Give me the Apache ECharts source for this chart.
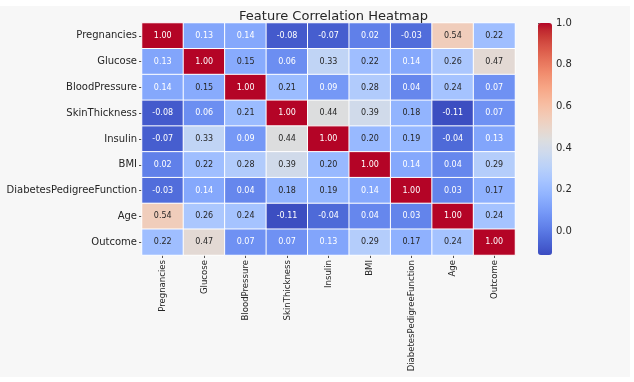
<!DOCTYPE html>
<html>
<head>
<meta charset="utf-8">
<script src="https://cdn.jsdelivr.net/npm/echarts@6/dist/echarts.min.js"></script>
<style>html,body{margin:0;padding:0;background:#fff;}#c{width:634px;height:382px;}</style>
</head>
<body>
<div id="c"></div>
<script>
const features = ['Pregnancies','Glucose','BloodPressure','SkinThickness','Insulin','BMI','DiabetesPedigreeFunction','Age','Outcome'];
const rowPregnancies   = [1.00, 0.13, 0.14, -0.08, -0.07, 0.02, -0.03, 0.54, 0.22];
const rowGlucose       = [0.13, 1.00, 0.15, 0.06, 0.33, 0.22, 0.14, 0.26, 0.47];
const rowBloodPressure = [0.14, 0.15, 1.00, 0.21, 0.09, 0.28, 0.04, 0.24, 0.07];
const rowSkinThickness = [-0.08, 0.06, 0.21, 1.00, 0.44, 0.39, 0.18, -0.11, 0.07];
const rowInsulin       = [-0.07, 0.33, 0.09, 0.44, 1.00, 0.20, 0.19, -0.04, 0.13];
const rowBMI           = [0.02, 0.22, 0.28, 0.39, 0.20, 1.00, 0.14, 0.04, 0.29];
const rowDPF           = [-0.03, 0.14, 0.04, 0.18, 0.19, 0.14, 1.00, 0.03, 0.17];
const rowAge           = [0.54, 0.26, 0.24, -0.11, -0.04, 0.04, 0.03, 1.00, 0.24];
const rowOutcome       = [0.22, 0.47, 0.07, 0.07, 0.13, 0.29, 0.17, 0.24, 1.00];
const colorRange = [-0.114, 1.0];
const colorbarTicks = [0.0, 0.2, 0.4, 0.6, 0.8, 1.0];

const rows = [rowPregnancies,rowGlucose,rowBloodPressure,rowSkinThickness,rowInsulin,rowBMI,rowDPF,rowAge,rowOutcome];

// coolwarm colormap stops
const cw = [[59,76,192],[68,90,204],[77,104,215],[87,117,225],[98,130,234],[108,142,241],[119,154,247],[130,165,251],[141,176,254],[152,185,255],[163,194,255],[174,201,253],[184,208,249],[194,213,244],[204,217,238],[213,219,230],[221,221,221],[229,216,209],[236,211,197],[241,204,184],[245,196,172],[247,187,159],[247,177,147],[247,166,134],[244,154,123],[241,141,111],[236,127,99],[229,112,89],[222,96,77],[213,80,69],[203,62,56],[192,40,47],[180,4,38]];
const cwHex = cw.map(c => '#' + c.map(v => v.toString(16).padStart(2,'0')).join(''));
function cmap(v){
  let t = (v - colorRange[0])/(colorRange[1]-colorRange[0]);
  t = Math.max(0, Math.min(1, t));
  const p = t*(cw.length-1), i = Math.min(Math.floor(p), cw.length-2), f = p - i;
  return cw[i].map((a,k)=> a + (cw[i+1][k]-a)*f);
}
function lum(rgb){
  const l = rgb.map(c => { c/=255; return c <= 0.03928 ? c/12.92 : Math.pow((c+0.055)/1.055, 2.4); });
  return 0.2126*l[0] + 0.7152*l[1] + 0.0722*l[2];
}
const data = [];
rows.forEach((r, yi) => r.forEach((v, xi) => {
  data.push({value:[xi, yi, v], label:{color: lum(cmap(v)) < 0.408 ? '#ffffff' : '#262626'}});
}));

const chart = echarts.init(document.getElementById('c'), null, {renderer:'canvas'});
const FONT = 'DejaVu Sans';
chart.setOption({
  backgroundColor: '#ffffff',
  animation: false,
  graphic: [{type:'rect', z:-10, shape:{x:0, y:6, width:630, height:371}, style:{fill:'#f7f7f7'}}],
  title: {
    text: 'Feature Correlation Heatmap', left: 328.5, top: 5, textAlign: 'center',
    textStyle: {fontFamily: FONT, fontSize: 13, fontWeight: 'normal', color: '#262626'}
  },
  grid: [
    {left: 142, top: 23, width: 373, height: 232},
    {left: 538, top: 23, width: 14, height: 232}
  ],
  xAxis: [
    {type:'category', gridIndex:0, data: features, position:'bottom',
     axisLine:{show:false}, splitArea:{show:false}, splitLine:{show:false},
     axisTick:{show:true, alignWithLabel:true, length:3, lineStyle:{color:'#262626', width:0.8}},
     axisLabel:{rotate:90, margin:5, fontSize:9.5, fontFamily:'DejaVu Sans Condensed, Liberation Sans Narrow, DejaVu Sans', color:'#262626', interval:0}},
    {type:'value', gridIndex:1, show:false, min:0, max:1}
  ],
  yAxis: [
    {type:'category', gridIndex:0, data: features, inverse:true,
     axisLine:{show:false}, splitArea:{show:false}, splitLine:{show:false},
     axisTick:{show:true, alignWithLabel:true, length:3, lineStyle:{color:'#262626', width:0.8}},
     axisLabel:{margin:5, fontSize:10, fontFamily:FONT, color:'#262626', interval:0}},
    {type:'value', gridIndex:1, position:'right', min:colorRange[0], max:colorRange[1],
     axisLine:{show:false}, splitLine:{show:false},
     axisTick:{show:true, length:3, customValues: colorbarTicks, lineStyle:{color:'#262626', width:0.8}},
     axisLabel:{show:true, margin:4, fontSize:10, fontFamily:FONT, color:'#262626', customValues: colorbarTicks,
                formatter: v => v.toFixed(1)}}
  ],
  visualMap: {
    type:'continuous', seriesIndex:0, min:colorRange[0], max:colorRange[1],
    left: 538, top: 23, itemWidth: 14, itemHeight: 232, padding: 0,
    calculable:false, showLabel:false, text:null, hoverLink:false,
    inRange:{color: cwHex}
  },
  series: [
    {type:'heatmap', xAxisIndex:0, yAxisIndex:0, data: data,
     itemStyle:{borderColor:'#ffffff', borderWidth:1},
     label:{show:true, fontSize:8, fontFamily:FONT, formatter: p => p.value[2].toFixed(2)},
     emphasis:{disabled:true}}
  ]
});
</script>
</body>
</html>
